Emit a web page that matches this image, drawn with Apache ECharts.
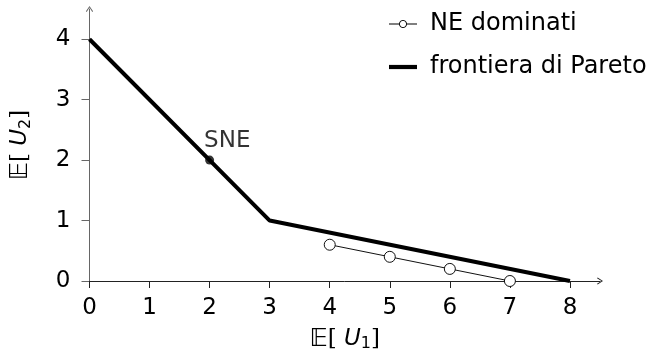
<!DOCTYPE html>
<html>
<head>
<meta charset="utf-8">
<script src="https://cdn.jsdelivr.net/npm/echarts@6/dist/echarts.min.js"></script>
<style>
  html, body { margin: 0; padding: 0; background: #fff; }
  #chart { width: 655px; height: 357px; }
</style>
</head>
<body>
<div id="chart"></div>
<script>
// Pareto frontier vertices (E[U1], E[U2])
const paretoX = [0, 3, 8];
const paretoY = [4, 1, 0];

// Dominated Nash equilibria
const dominatedX = [4, 5, 6, 7];
const dominatedY = [0.6, 0.4, 0.2, 0];

// Symmetric Nash equilibrium
const sneX = [2];
const sneY = [2];

// Tick labels
const xTicks = [0, 1, 2, 3, 4, 5, 6, 7, 8];
const yTicks = [0, 1, 2, 3, 4];

const seriesNames = ['NE dominati', 'frontiera di Pareto'];

const FONT = 'DejaVu Sans';
const INK = '#000';
const pairs = (xs, ys) => xs.map((x, i) => [x, ys[i]]);

// open chevron used as the arrow head at the end of each axis
const arrowHead = 'path://M0,6 L4,0 L8,6 L7.1,6.7 L4,1.7 L0.9,6.7 Z';
// thick bar used as the legend key of the frontier (28 x 4.2 box)
const thickBar = 'path://M0,0 H28 V4.2 H0 Z';

// polygon outline of a circle, n segments, as SVG path commands
function circlePath(cx, cy, r, n, reverse) {
  const pts = [];
  for (let i = 0; i < n; i++) {
    const a = (reverse ? -1 : 1) * (i / n) * Math.PI * 2;
    pts.push((cx + r * Math.cos(a)).toFixed(2) + ',' + (cy + r * Math.sin(a)).toFixed(2));
  }
  return 'M' + pts.join(' L') + ' Z ';
}
// thin line through a small ring: legend key of the dominated equilibria (28 x 8 box)
const lineRing = 'path://M0,3.55 H10.1 V4.45 H0 Z '
  + circlePath(14, 4, 4, 24, false)
  + circlePath(14, 4, 3.1, 24, true)
  + 'M17.9,3.55 H28 V4.45 H17.9 Z';

const nameRich = {
  bb: { fontFamily: 'DejaVu Sans', fontSize: 25, color: INK },
  br: { fontFamily: 'DejaVu Serif', fontSize: 23, color: INK },
  u:  { fontFamily: FONT, fontSize: 23, fontStyle: 'italic', color: INK },
  sub:{ fontFamily: FONT, fontSize: 16, color: INK, verticalAlign: 'bottom', padding: [10, 0, 0, 0] }
};

const chart = echarts.init(document.getElementById('chart'), null, { renderer: 'canvas' });

chart.setOption({
  animation: false,
  backgroundColor: '#fff',
  grid: { left: 86, right: 55, top: 9, bottom: 76, containLabel: false },
  legend: {
    orient: 'vertical',
    left: 389,
    top: 12,
    padding: 0,
    itemWidth: 28,
    itemHeight: 10,
    itemGap: 19,
    symbolKeepAspect: true,
    data: [
      { name: seriesNames[0], icon: lineRing, itemStyle: { color: '#000', borderWidth: 0 } },
      { name: seriesNames[1], icon: thickBar, itemStyle: { color: '#000', borderWidth: 0 } }
    ],
    textStyle: { fontFamily: FONT, fontSize: 24, color: INK, padding: [10, 0, 0, 8] }
  },
  xAxis: {
    type: 'value',
    min: 0,
    max: 8.5,
    interval: 1,
    name: '{bb|𝔼}{br|[}{u| U}{sub|1}{br|]}',
    nameLocation: 'middle',
    nameGap: 45,
    nameTextStyle: { rich: nameRich },
    axisLine: {
      show: true,
      lineStyle: { color: '#222', width: 1 },
      symbol: ['none', arrowHead],
      symbolSize: [9, 6]
    },
    axisTick: {
      show: true,
      inside: false,
      length: 7,
      customValues: xTicks,
      lineStyle: { color: '#222', width: 1 }
    },
    axisLabel: {
      customValues: xTicks,
      margin: 16,
      fontFamily: FONT,
      fontSize: 23,
      color: INK
    },
    splitLine: { show: false }
  },
  yAxis: {
    type: 'value',
    min: 0,
    max: 4.5,
    interval: 1,
    name: '{bb|𝔼}{br|[}{u| U}{sub|2}{br|]}',
    nameLocation: 'middle',
    nameGap: 56,
    nameRotate: 90,
    nameTextStyle: { rich: nameRich },
    axisLine: {
      show: true,
      lineStyle: { color: '#666', width: 1 },
      symbol: ['none', arrowHead],
      symbolSize: [9, 6]
    },
    axisTick: {
      show: true,
      inside: false,
      length: 8,
      customValues: yTicks,
      lineStyle: { color: '#666', width: 1 }
    },
    axisLabel: {
      customValues: yTicks,
      margin: 19,
      fontFamily: FONT,
      fontSize: 23,
      color: INK
    },
    splitLine: { show: false }
  },
  series: [
    {
      name: seriesNames[0],
      type: 'line',
      data: pairs(dominatedX, dominatedY),
      symbol: 'circle',
      symbolSize: 11,
      showAllSymbol: true,
      lineStyle: { color: '#111', width: 1 },
      itemStyle: { color: '#fff', borderColor: '#111', borderWidth: 1 },
      z: 3
    },
    {
      name: seriesNames[1],
      type: 'line',
      data: pairs(paretoX, paretoY),
      symbol: 'none',
      lineStyle: { color: '#000', width: 4 },
      itemStyle: { color: '#000' },
      z: 2
    },
    {
      name: 'SNE',
      type: 'scatter',
      data: pairs(sneX, sneY),
      symbol: 'circle',
      symbolSize: 9,
      itemStyle: { color: '#000' },
      label: {
        show: true,
        formatter: 'SNE',
        position: [-1, -3],
        align: 'left',
        verticalAlign: 'bottom',
        fontFamily: FONT,
        fontSize: 23,
        color: INK
      },
      z: 4
    }
  ]
});
</script>
</body>
</html>
